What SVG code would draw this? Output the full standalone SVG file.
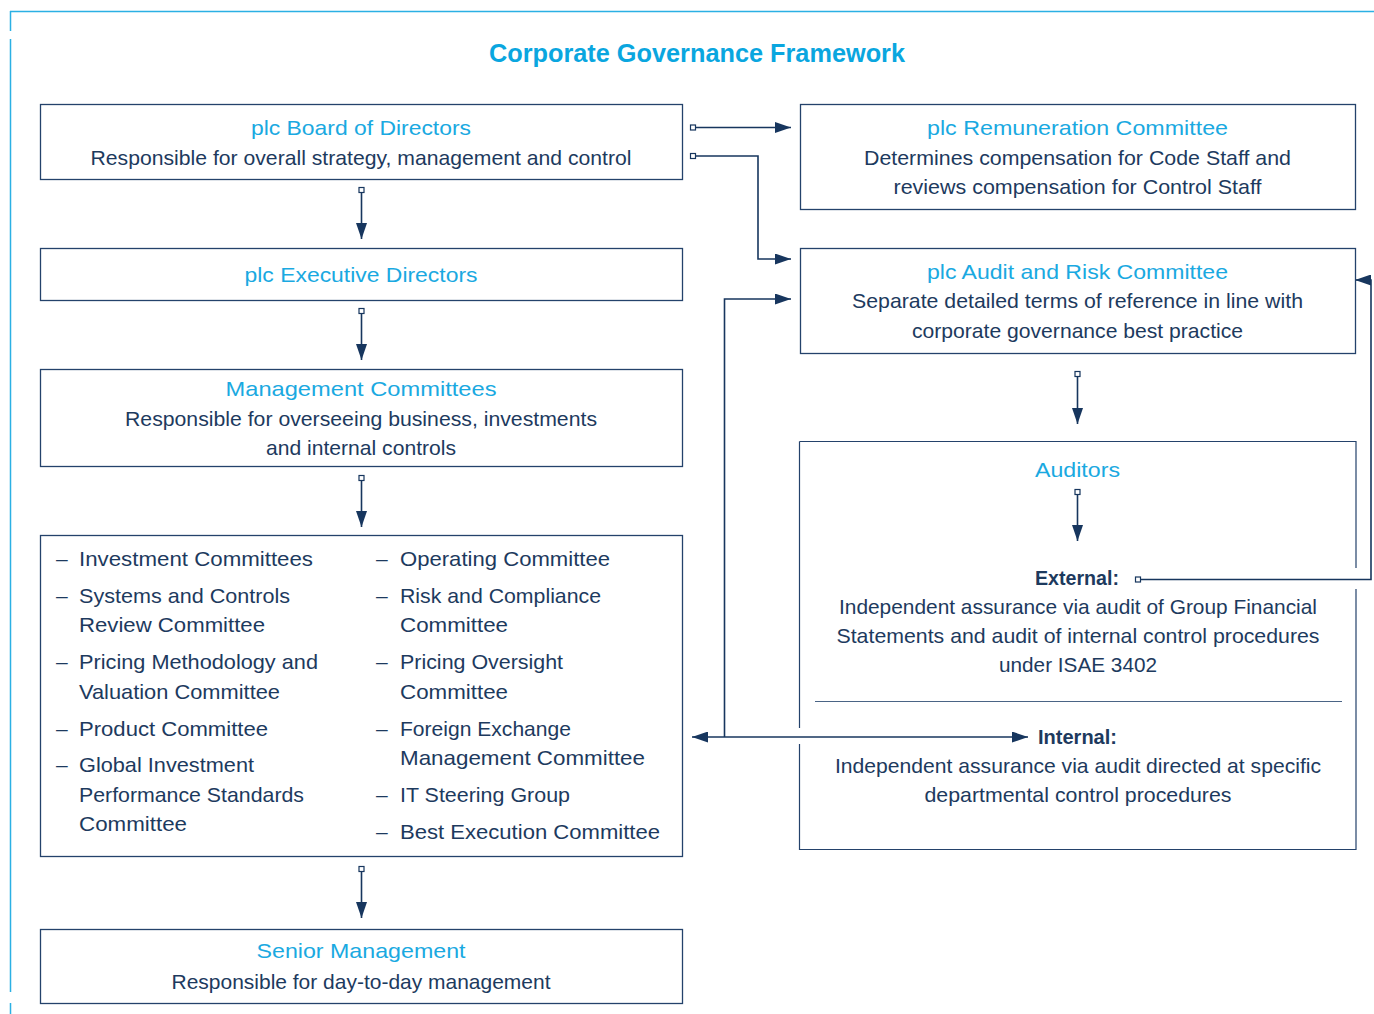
<svg xmlns="http://www.w3.org/2000/svg" width="1374" height="1014" viewBox="0 0 1374 1014">
  <style>
    .frame { fill: none; stroke: #2bb0e4; stroke-width: 1.5; }
    .box { fill: #ffffff; stroke: #24426b; stroke-width: 1.3; }
    .edge { fill: none; stroke: #24426b; stroke-width: 1.2; }
    .rule { fill: none; stroke: #4a6485; stroke-width: 1.1; }
    .title { font-family: "Liberation Sans", Arial, sans-serif; font-size: 25px; font-weight: bold; fill: #0aa6df; }
    .head { font-family: "Liberation Sans", Arial, sans-serif; font-size: 21px; fill: #1aa9e1; }
    .body { font-family: "Liberation Sans", Arial, sans-serif; font-size: 21px; fill: #1d3a5e; }
    .label { font-family: "Liberation Sans", Arial, sans-serif; font-size: 20px; font-weight: bold; fill: #1d3a5e; }
    .c { text-anchor: middle; }
    .conn { fill: none; stroke: #17365e; stroke-width: 1.6; }
  </style>
  <defs>
    <marker id="arrow" markerUnits="userSpaceOnUse" markerWidth="17" markerHeight="11" refX="16" refY="5.5" orient="auto-start-reverse">
      <path d="M0,0 L16,5.5 L0,11 Z" fill="#17365e"/>
    </marker>
    <marker id="tail" markerUnits="userSpaceOnUse" markerWidth="8" markerHeight="8" refX="4" refY="4" orient="0">
      <rect x="1.5" y="1.5" width="5" height="5" fill="#ffffff" stroke="#17365e" stroke-width="1.2"/>
    </marker>
  </defs>

  <!-- page frame -->
  <g id="frame">
    <path class="frame" d="M10,11.5 H1374"/>
    <path class="frame" d="M10.5,11 V31 M10.5,39 V992 M10.5,1003 V1014"/>
  </g>

  <text class="title c" x="697" y="62" textLength="416" lengthAdjust="spacingAndGlyphs">Corporate Governance Framework</text>

  <!-- connectors -->
  <g id="connectors">
    <path class="conn" d="M693,127.5 H791" marker-start="url(#tail)" marker-end="url(#arrow)"/>
    <path class="conn" d="M693,156 H758 V259 H791" marker-start="url(#tail)" marker-end="url(#arrow)"/>
    <path class="conn" d="M361.5,190 V239" marker-start="url(#tail)" marker-end="url(#arrow)"/>
    <path class="conn" d="M361.5,311 V360" marker-start="url(#tail)" marker-end="url(#arrow)"/>
    <path class="conn" d="M361.5,478 V527" marker-start="url(#tail)" marker-end="url(#arrow)"/>
    <path class="conn" d="M361.5,869 V918" marker-start="url(#tail)" marker-end="url(#arrow)"/>
    <path class="conn" d="M1077.5,374 V424" marker-start="url(#tail)" marker-end="url(#arrow)"/>
    <path class="conn" d="M1077.5,492 V541" marker-start="url(#tail)" marker-end="url(#arrow)"/>
    <path class="conn" d="M1138,579.5 H1371 V280 H1355" marker-start="url(#tail)" marker-end="url(#arrow)"/>
    <path class="conn" d="M692,737 H1028" marker-start="url(#arrow)" marker-end="url(#arrow)"/>
    <path class="conn" d="M724.5,737 V299 H791" marker-end="url(#arrow)"/>
  </g>

  <!-- left column -->
  <g id="board">
    <rect class="box" x="40.5" y="104.5" width="642" height="75"/>
    <text class="head c" x="361" y="135" textLength="220" lengthAdjust="spacingAndGlyphs">plc Board of Directors</text>
    <text class="body c" x="361" y="165" textLength="541" lengthAdjust="spacingAndGlyphs">Responsible for overall strategy, management and control</text>
  </g>

  <g id="executive">
    <rect class="box" x="40.5" y="248.5" width="642" height="52"/>
    <text class="head c" x="361" y="282" textLength="233" lengthAdjust="spacingAndGlyphs">plc Executive Directors</text>
  </g>

  <g id="management">
    <rect class="box" x="40.5" y="369.5" width="642" height="97"/>
    <text class="head c" x="361" y="396" textLength="271" lengthAdjust="spacingAndGlyphs">Management Committees</text>
    <text class="body c" x="361" y="426" textLength="472" lengthAdjust="spacingAndGlyphs">Responsible for overseeing business, investments</text>
    <text class="body c" x="361" y="455" textLength="190" lengthAdjust="spacingAndGlyphs">and internal controls</text>
  </g>

  <g id="committees">
    <rect class="box" x="40.5" y="535.5" width="642" height="321"/>
    <g class="body">
      <text x="56" y="566">–</text>
      <text x="79" y="566" textLength="234" lengthAdjust="spacingAndGlyphs">Investment Committees</text>
      <text x="56" y="603">–</text>
      <text x="79" y="603" textLength="211" lengthAdjust="spacingAndGlyphs">Systems and Controls</text>
      <text x="79" y="632" textLength="186" lengthAdjust="spacingAndGlyphs">Review Committee</text>
      <text x="56" y="669">–</text>
      <text x="79" y="669" textLength="239" lengthAdjust="spacingAndGlyphs">Pricing Methodology and</text>
      <text x="79" y="699" textLength="201" lengthAdjust="spacingAndGlyphs">Valuation Committee</text>
      <text x="56" y="736">–</text>
      <text x="79" y="736" textLength="189" lengthAdjust="spacingAndGlyphs">Product Committee</text>
      <text x="56" y="772">–</text>
      <text x="79" y="772" textLength="175" lengthAdjust="spacingAndGlyphs">Global Investment</text>
      <text x="79" y="802" textLength="225" lengthAdjust="spacingAndGlyphs">Performance Standards</text>
      <text x="79" y="831" textLength="108" lengthAdjust="spacingAndGlyphs">Committee</text>

      <text x="376" y="566">–</text>
      <text x="400" y="566" textLength="210" lengthAdjust="spacingAndGlyphs">Operating Committee</text>
      <text x="376" y="603">–</text>
      <text x="400" y="603" textLength="201" lengthAdjust="spacingAndGlyphs">Risk and Compliance</text>
      <text x="400" y="632" textLength="108" lengthAdjust="spacingAndGlyphs">Committee</text>
      <text x="376" y="669">–</text>
      <text x="400" y="669" textLength="163" lengthAdjust="spacingAndGlyphs">Pricing Oversight</text>
      <text x="400" y="699" textLength="108" lengthAdjust="spacingAndGlyphs">Committee</text>
      <text x="376" y="736">–</text>
      <text x="400" y="736" textLength="171" lengthAdjust="spacingAndGlyphs">Foreign Exchange</text>
      <text x="400" y="765" textLength="245" lengthAdjust="spacingAndGlyphs">Management Committee</text>
      <text x="376" y="802">–</text>
      <text x="400" y="802" textLength="170" lengthAdjust="spacingAndGlyphs">IT Steering Group</text>
      <text x="376" y="839">–</text>
      <text x="400" y="839" textLength="260" lengthAdjust="spacingAndGlyphs">Best Execution Committee</text>
    </g>
  </g>

  <g id="senior">
    <rect class="box" x="40.5" y="929.5" width="642" height="74"/>
    <text class="head c" x="361" y="958" textLength="209" lengthAdjust="spacingAndGlyphs">Senior Management</text>
    <text class="body c" x="361" y="989" textLength="379" lengthAdjust="spacingAndGlyphs">Responsible for day-to-day management</text>
  </g>

  <!-- right column -->
  <g id="remuneration">
    <rect class="box" x="800.5" y="104.5" width="555" height="105"/>
    <text class="head c" x="1077.5" y="135" textLength="301" lengthAdjust="spacingAndGlyphs">plc Remuneration Committee</text>
    <text class="body c" x="1077.5" y="165" textLength="427" lengthAdjust="spacingAndGlyphs">Determines compensation for Code Staff and</text>
    <text class="body c" x="1077.5" y="194" textLength="368" lengthAdjust="spacingAndGlyphs">reviews compensation for Control Staff</text>
  </g>

  <g id="audit-risk">
    <rect class="box" x="800.5" y="248.5" width="555" height="105"/>
    <text class="head c" x="1077.5" y="279" textLength="301" lengthAdjust="spacingAndGlyphs">plc Audit and Risk Committee</text>
    <text class="body c" x="1077.5" y="308" textLength="451" lengthAdjust="spacingAndGlyphs">Separate detailed terms of reference in line with</text>
    <text class="body c" x="1077.5" y="338" textLength="331" lengthAdjust="spacingAndGlyphs">corporate governance best practice</text>
  </g>

  <g id="auditors">
    <path class="edge" d="M799.5,441.5 H1356 V568 M1356,589 V849.5 H799.5 V744 M799.5,728 V441.5"/>
    <text class="head c" x="1077.5" y="477" textLength="85" lengthAdjust="spacingAndGlyphs">Auditors</text>
    <text class="label" x="1035" y="585" textLength="84" lengthAdjust="spacingAndGlyphs">External:</text>
    <text class="body c" x="1078" y="614" textLength="478" lengthAdjust="spacingAndGlyphs">Independent assurance via audit of Group Financial</text>
    <text class="body c" x="1078" y="643" textLength="483" lengthAdjust="spacingAndGlyphs">Statements and audit of internal control procedures</text>
    <text class="body c" x="1078" y="672" textLength="158" lengthAdjust="spacingAndGlyphs">under ISAE 3402</text>
    <path class="rule" d="M815,701.5 H1342"/>
    <text class="label" x="1038" y="744" textLength="79" lengthAdjust="spacingAndGlyphs">Internal:</text>
    <text class="body c" x="1078" y="773" textLength="486" lengthAdjust="spacingAndGlyphs">Independent assurance via audit directed at specific</text>
    <text class="body c" x="1078" y="802" textLength="307" lengthAdjust="spacingAndGlyphs">departmental control procedures</text>
  </g>
</svg>
